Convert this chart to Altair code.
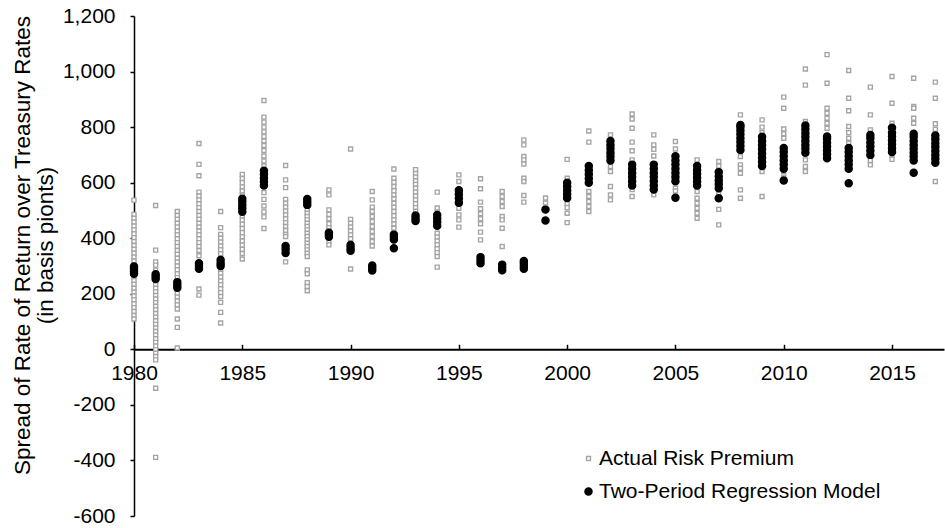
import altair as alt
import pandas as pd

# ---------------- data ----------------
series_names = ["Actual Risk Premium", "Two-Period Regression Model"]
x_tick_years = [1980, 1985, 1990, 1995, 2000, 2005, 2010, 2015]
y_tick_values = [-600, -400, -200, 0, 200, 400, 600, 800, 1000, 1200]

actual_1980 = [537, 486, 472, 458, 444, 430, 416, 402, 388, 374, 360, 346, 332, 318, 304, 290, 276, 262, 248, 234, 220, 206, 192, 178, 164, 150, 136, 122, 109]
actual_1981 = [518, 357, 315, 303, 285, 272, 259, 246, 233, 220, 207, 194, 181, 168, 155, 142, 129, 116, 103, 90, 77, 64, 51, 38, 25, 12, -1, -14, -26, -38, -140, -389]
actual_1982 = [496, 482, 468, 454, 440, 426, 412, 398, 384, 370, 356, 342, 328, 314, 300, 286, 272, 258, 244, 230, 216, 202, 188, 174, 160, 145, 109, 79, 5]
actual_1983 = [741, 666, 625, 566, 552, 538, 524, 510, 496, 482, 468, 454, 440, 426, 412, 398, 384, 370, 356, 337, 217, 195]
actual_1984 = [496, 438, 414, 400, 386, 372, 358, 344, 330, 316, 302, 288, 274, 260, 246, 232, 218, 204, 190, 169, 133, 95]
actual_1985 = [630, 615, 600, 585, 570, 555, 540, 525, 510, 495, 480, 465, 450, 435, 420, 405, 390, 375, 360, 345, 325]
actual_1986 = [896, 836, 818, 800, 783, 766, 750, 734, 716, 696, 678, 660, 642, 588, 564, 540, 516, 495, 477, 435]
actual_1987 = [662, 610, 582, 540, 526, 512, 498, 484, 470, 456, 442, 428, 414, 406, 315]
actual_1988 = [502, 490, 478, 466, 454, 442, 430, 418, 406, 394, 382, 370, 358, 346, 334, 286, 272, 240, 226, 211]
actual_1989 = [574, 556, 502, 486, 470, 452, 438, 425, 390, 376]
actual_1990 = [721, 468, 454, 440, 426, 412, 398, 384, 289]
actual_1991 = [568, 538, 512, 496, 478, 460, 442, 424, 406, 388, 372]
actual_1992 = [649, 616, 601, 586, 571, 556, 541, 526, 511, 496, 481, 466, 451, 436]
actual_1993 = [647, 633, 620, 607, 594, 580, 566, 552, 538, 524, 510, 497]
actual_1994 = [566, 509, 491, 418, 404, 390, 376, 362, 348, 334, 296]
actual_1995 = [628, 604, 574, 538, 508, 484, 466, 440]
actual_1996 = [614, 578, 530, 506, 488, 470, 452, 422, 394]
actual_1997 = [568, 550, 532, 514, 478, 466, 436, 370]
actual_1998 = [754, 736, 694, 682, 667, 616, 604, 554, 530]
actual_1999 = [545, 527]
actual_2000 = [684, 616, 600, 525, 510, 490, 456]
actual_2001 = [786, 746, 568, 550, 532, 514, 496]
actual_2002 = [772, 658, 640, 586, 556, 538]
actual_2003 = [847, 829, 796, 746, 715, 682, 595, 575, 550]
actual_2004 = [772, 736, 720, 696, 556]
actual_2005 = [748, 721, 690, 580, 570]
actual_2006 = [682, 568, 544, 526, 508, 490, 472]
actual_2007 = [676, 660, 560, 504, 448]
actual_2008 = [844, 694, 664, 652, 634, 574, 544]
actual_2009 = [826, 800, 780, 640, 550]
actual_2010 = [908, 868, 793, 776, 760, 640, 620]
actual_2011 = [1009, 951, 820, 682, 658, 640]
actual_2012 = [1061, 958, 868, 850, 832, 814, 796]
actual_2013 = [1004, 904, 859, 802, 780, 760, 742]
actual_2014 = [944, 844, 790, 680, 664]
actual_2015 = [982, 886, 814, 700, 684]
actual_2016 = [976, 874, 868, 832, 814, 700, 690]
actual_2017 = [962, 904, 812, 792, 680, 604]

model_1980 = [272, 281, 290, 298]
model_1981 = [253, 262, 270]
model_1982 = [222, 232, 242]
model_1983 = [290, 300, 310]
model_1984 = [300, 310, 322]
model_1985 = [495, 508, 520, 532, 542]
model_1986 = [590, 603, 616, 630, 643]
model_1987 = [347, 360, 372]
model_1988 = [520, 530, 541]
model_1989 = [405, 413, 420]
model_1990 = [355, 365, 376]
model_1991 = [284, 293, 302]
model_1992 = [364, 395, 405, 413]
model_1993 = [462, 472, 482]
model_1994 = [445, 458, 471, 484]
model_1995 = [528, 543, 558, 573]
model_1996 = [310, 321, 332]
model_1997 = [285, 295, 305]
model_1998 = [290, 300, 310, 318]
model_1999 = [464, 503]
model_2000 = [545, 558, 572, 586, 600]
model_2001 = [600, 615, 630, 645, 660]
model_2002 = [680, 694, 708, 722, 736, 750]
model_2003 = [590, 605, 620, 635, 650, 665]
model_2004 = [575, 590, 605, 620, 635, 650, 665]
model_2005 = [546, 605, 620, 635, 650, 665, 680, 695]
model_2006 = [590, 604, 618, 632, 646, 660]
model_2007 = [544, 580, 594, 608, 622, 638]
model_2008 = [718, 732, 746, 760, 774, 788, 800, 808]
model_2009 = [660, 675, 690, 705, 720, 735, 750, 765]
model_2010 = [608, 650, 665, 680, 695, 710, 725]
model_2011 = [708, 722, 736, 750, 764, 778, 792, 806]
model_2012 = [688, 702, 716, 730, 744, 758, 766]
model_2013 = [598, 650, 665, 680, 695, 710, 725]
model_2014 = [700, 715, 730, 745, 760, 772]
model_2015 = [710, 724, 738, 752, 766, 780, 798]
model_2016 = [636, 680, 694, 708, 722, 736, 750, 764, 776]
model_2017 = [672, 686, 700, 714, 728, 742, 756, 770]

years = list(range(1980, 2018))
actual_lists = [globals()["actual_%d" % y] for y in years]
model_lists = [globals()["model_%d" % y] for y in years]

rows = []
for yr, vals in zip(years, actual_lists):
    for v in vals:
        rows.append({"year": yr, "spread": v, "series": series_names[0]})
for yr, vals in zip(years, model_lists):
    for v in vals:
        rows.append({"year": yr, "spread": v, "series": series_names[1]})
df = pd.DataFrame(rows)
ticks_df = pd.DataFrame({"year": x_tick_years})

# ---------------- chart ----------------
FONT = "Liberation Sans"
x_scale = alt.Scale(domain=[1980, 2017.4], nice=False, zero=False)
y_scale = alt.Scale(domain=[-600, 1200], nice=False, zero=False)

legend = alt.Legend(
    title=None, orient="none", legendX=444, legendY=432,
    labelFont=FONT, labelFontSize=21, labelColor="black", labelLimit=0,
    labelOffset=0, rowPadding=11, padding=0, symbolStrokeWidth=1.4,
)

points = alt.Chart(df).mark_point(opacity=1, strokeWidth=1.4).encode(
    x=alt.X("year:Q", scale=x_scale,
            axis=alt.Axis(orient="top", offset=-333.3, labels=False, title=None,
                          values=x_tick_years, tickSize=5, tickWidth=1.5, tickColor="black",
                          domainColor="black", domainWidth=2, grid=False)),
    y=alt.Y("spread:Q", scale=y_scale,
            axis=alt.Axis(values=y_tick_values,
                          labelExpr="datum.value < 0 ? '-' + format(-datum.value, ',') : format(datum.value, ',')",
                          labelFont=FONT, labelFontSize=21, labelColor="black", labelPadding=15,
                          labelFlush=False,
                          tickSize=4, tickWidth=1.5, tickColor="black",
                          domainColor="black", domainWidth=1.5, grid=False,
                          title=["Spread of Rate of Return over Treasury Rates", "(in basis pionts)"],
                          titleFont=FONT, titleFontSize=22.5, titleFontWeight="normal", titleColor="black",
                          titleAngle=270, titleX=-112, titleY=229, titleAlign="center",
                          titleBaseline="middle", titleLineHeight=23)),
    shape=alt.Shape("series:N", scale=alt.Scale(domain=series_names, range=["square", "circle"]), legend=legend),
    stroke=alt.Stroke("series:N", scale=alt.Scale(domain=series_names, range=["#a5a5a5", "#000000"]), legend=legend),
    fill=alt.Fill("series:N", scale=alt.Scale(domain=series_names, range=["#ffffff", "#000000"]), legend=legend),
    size=alt.Size("series:N", scale=alt.Scale(domain=series_names, range=[16, 50]), legend=legend),
)

labels_layer = alt.Chart(ticks_df).mark_point(opacity=0).encode(
    x=alt.X("year:Q", scale=x_scale,
            axis=alt.Axis(orient="bottom", offset=-166.7, domain=False, ticks=False,
                          labelPadding=13, labelFlush=False, values=x_tick_years, format="d",
                          labelFont=FONT, labelFontSize=21, labelColor="black",
                          title=None, grid=False)),
    y=alt.value(0),
)

chart = alt.layer(points, labels_layer).resolve_scale(x="shared").resolve_axis(x="independent").properties(
    width=810, height=500,
    autosize=alt.AutoSizeParams(type="none"),
    padding={"left": 134, "top": 16, "right": 1, "bottom": 12},
    background="white",
).configure_view(stroke=None)

chart.save("out.html", embed_options={"renderer": "svg", "actions": False})
